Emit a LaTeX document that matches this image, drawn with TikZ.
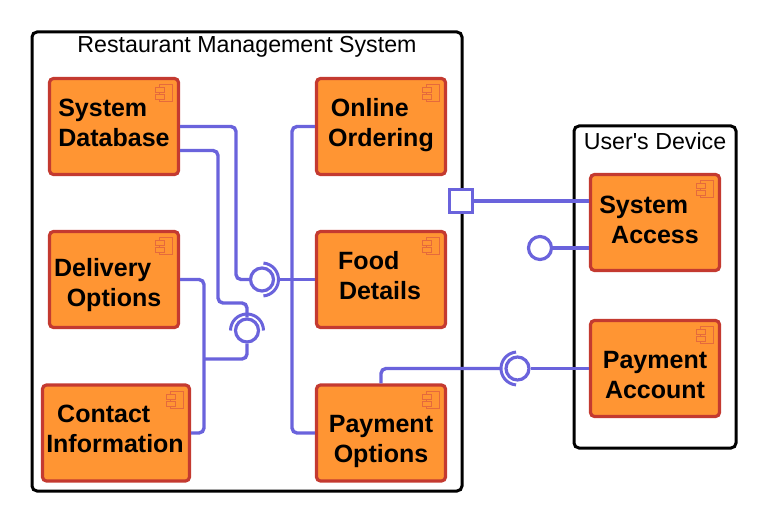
\documentclass[tikz,border=0pt]{standalone}
\usepackage{fontspec}
\setmainfont{Liberation Sans}
\usetikzlibrary{calc}
\definecolor{compfill}{HTML}{FF9533}
\definecolor{compedge}{HTML}{C43A30}
\definecolor{compicon}{HTML}{E56A3C}
\definecolor{wire}{HTML}{6A63DC}
\tikzset{
	compbox/.style={draw=compedge, fill=compfill, line width=3.2pt, rounded corners=4pt, minimum width=129pt, minimum height=96pt, inner sep=0pt},
	compname/.style={align=center, font=\fontsize{25}{30}\selectfont\bfseries, inner sep=0pt},
	framebox/.style={draw=black, line width=3pt, rounded corners=5pt, inner sep=0pt},
	frametitle/.style={font=\fontsize{23.2}{27}\selectfont, inner sep=0pt},
	wireline/.style={draw=wire, line width=3.4pt, rounded corners=5pt},
	ballend/.style={circle, draw=wire, fill=white, line width=3.2pt, minimum size=23pt, inner sep=0pt},
	portbox/.style={draw=wire, fill=white, line width=3.4pt, minimum size=23pt, inner sep=0pt}
}
\def\pad{\hspace*{0.9em}}
\def\socketarc(#1)(#2:#3){\draw[wire, line width=3pt] ($(#1)+({16.5*cos(#2)},{16.5*sin(#2)})$) arc (#2:#3:16.5);}
\def\compmark(#1){
	\draw[compicon, line width=1pt] ($(#1.north east)+(-21,8)$) rectangle ($(#1.north east)+(-8,25)$);
	\draw[compicon, fill=compfill, line width=1pt] ($(#1.north east)+(-25,11)$) rectangle ($(#1.north east)+(-16,16)$);
	\draw[compicon, fill=compfill, line width=1pt] ($(#1.north east)+(-25,18)$) rectangle ($(#1.north east)+(-16,23)$);
}

\begin{document}
\begin{tikzpicture}[x=1pt, y=-1pt]
	\useasboundingbox (0, 0) rectangle (768, 524);

	% frames
	\node[framebox, minimum width=430pt, minimum height=459pt] (restaurant) at (247, 261.5) {};
	\node[framebox, minimum width=162pt, minimum height=322pt] (device) at (655, 287) {};
	\node[frametitle] (restauranttitle) at (247, 47) {Restaurant Management System};
	\node[frametitle] (devicetitle) at (655, 141) {User\textquotesingle s Device};

	% components
	\node[compbox] (sysdb) at (114, 126.5) {};
	\node[compbox] (online) at (381, 126.5) {};
	\node[compbox] (delivery) at (114, 279.5) {};
	\node[compbox] (food) at (381, 279.5) {};
	\node[compbox, minimum width=147pt] (contact) at (116, 433) {};
	\node[compbox] (payopt) at (381, 433) {};
	\node[compbox] (sysacc) at (655, 222.5) {};
	\node[compbox] (payacc) at (655, 368.5) {};

	\node[compname] at (114, 123) {System\pad\\Database};
	\node[compname] at (381, 125.5) {Online\pad\\Ordering};
	\node[compname] at (114, 285) {Delivery\pad\\Options};
	\node[compname] at (380, 275.5) {Food\pad\\Details};
	\node[compname] at (115, 428.5) {Contact\pad\\Information};
	\node[compname] at (381, 441.5) {Payment\\Options};
	\node[compname] at (655, 219.5) {System\pad\\Access};
	\node[compname] at (655, 375.5) {Payment\\Account};

	\compmark(sysdb)
	\compmark(online)
	\compmark(delivery)
	\compmark(food)
	\compmark(contact)
	\compmark(payopt)
	\compmark(sysacc)
	\compmark(payacc)

	% interface ends
	\coordinate (junction) at (204, 359);
	\coordinate (sockfood) at (279, 279.5);
	\coordinate (sockpay) at (501, 368.5);
	\node[ballend] (ballfood) at (262, 279.5) {};
	\node[ballend] (balldelivery) at (247, 330.5) {};
	\node[ballend] (ballpay) at (517.5, 368.5) {};
	\node[ballend] (ballaccess) at (540, 248) {};
	\node[portbox] (port) at (461, 201) {};

	% connectors
	\draw[wireline] (sysdb.east) -| (236, 279.5) -- (ballfood.west);
	\draw[wireline] ([yshift=-24pt]sysdb.east) -| (218, 303) -| (balldelivery.north);
	\draw[wireline] (delivery.east) -| (junction) |- (contact.east);
	\draw[wireline] (balldelivery.south) |- (junction);
	\draw[wireline] (online.west) -| (292, 300) |- (payopt.west);
	\draw[wireline] (food.west) -- (sockfood);
	\draw[wireline] (payopt.north) |- (sockpay);
	\draw[wireline] (payacc.west) -- (ballpay.east);
	\draw[wireline] (port.east) -- (port -| sysacc.west);
	\draw[wireline] (ballaccess.east) -- (ballaccess -| sysacc.west);

	\socketarc(ballfood)(-85:85)
	\socketarc(balldelivery)(180:360)
	\socketarc(ballpay)(95:265)
\end{tikzpicture}
\end{document}
